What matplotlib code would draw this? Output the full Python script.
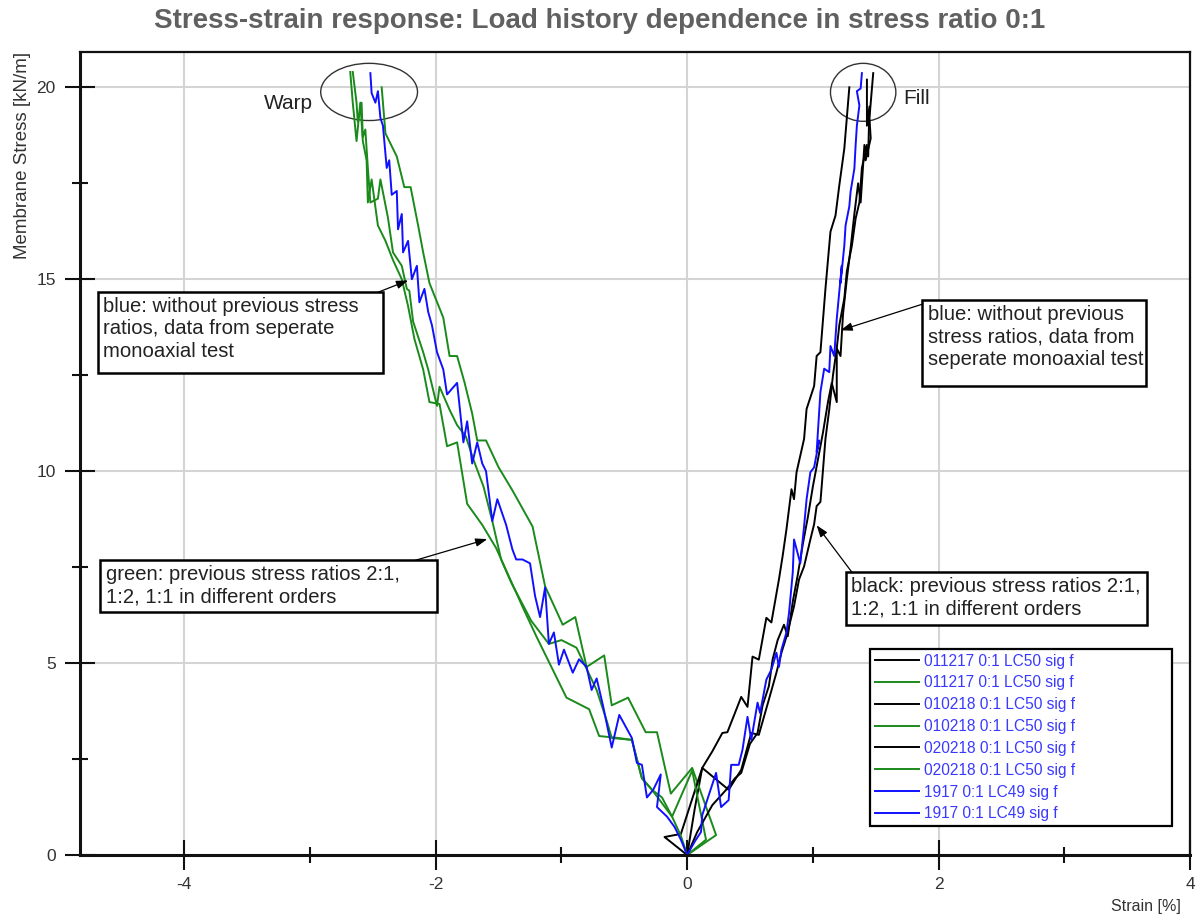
import matplotlib
matplotlib.use("Agg")
import matplotlib.pyplot as plt
from matplotlib.patches import Ellipse, Rectangle

plt.rcParams['font.family'] = ['Liberation Sans', 'DejaVu Sans']
plt.rcParams['axes.unicode_minus'] = False

# warp direction (green, previous stress ratios)
warp_011217_x = [0, 0.23, 0.04, -0.13, -0.24, -0.33, -0.47, -0.60, -0.66, -0.80, -0.89, -0.99, -1.13, -1.23,
                 -1.39, -1.50, -1.60, -1.67, -1.71, -1.77, -1.83, -1.89, -1.94, -2.05, -2.10, -2.14, -2.20,
                 -2.25, -2.31, -2.40, -2.43]
warp_011217_y = [0, 0.52, 2.27, 1.6, 3.2, 3.2, 4.1, 3.9, 5.2, 4.9, 6.2, 6.0, 7.0, 8.56,
                 9.5, 10.1, 10.8, 10.8, 11.5, 12.3, 13.0, 13.0, 14.0, 14.9, 15.7, 16.4, 17.4,
                 17.4, 18.2, 18.8, 20.0]
warp_010218_x = [0, 0.15, 0.04, -0.12, -0.28, -0.36, -0.44, -0.60, -0.64, -0.72, -0.88, -1.00, -1.10, -1.24,
                 -1.40, -1.48, -1.55, -1.62, -1.70, -1.76, -1.83, -1.89, -1.97, -1.99, -2.06, -2.10, -2.18,
                 -2.21, -2.23, -2.27, -2.34, -2.38, -2.44, -2.46, -2.52, -2.54, -2.56, -2.58, -2.59, -2.62,
                 -2.63, -2.66]
warp_010218_y = [0, 0.4, 2.2, 1.0, 1.7, 2.0, 3.0, 3.05, 3.5, 4.3, 5.4, 5.6, 5.5, 6.1,
                 7.1, 7.7, 8.7, 9.6, 10.3, 10.9, 11.2, 11.6, 12.2, 11.7, 12.65, 13.1, 13.9,
                 14.7, 14.75, 15.35, 15.7, 16.6, 17.6, 17.1, 17.0, 17.9, 18.9, 18.7, 19.6, 19.1,
                 19.6, 20.4]
warp_020218_x = [0, -0.05, -0.12, -0.20, -0.28, -0.36, -0.44, -0.55, -0.70, -0.78, -0.96, -1.08, -1.20, -1.30,
                 -1.41, -1.52, -1.63, -1.75, -1.83, -1.91, -1.97, -2.05, -2.10, -2.17, -2.22, -2.27, -2.34,
                 -2.40, -2.46, -2.51, -2.54, -2.55, -2.58, -2.60, -2.63, -2.66, -2.68]
warp_020218_y = [0, 0.5, 1.0, 1.5, 1.7, 2.0, 3.0, 3.05, 3.1, 3.8, 4.1, 4.9, 5.7, 6.4,
                 7.2, 8.0, 8.6, 9.15, 10.75, 10.65, 11.75, 11.8, 12.65, 13.45, 14.3, 15.0, 15.5,
                 16.0, 16.4, 17.6, 17.0, 18.1, 18.6, 19.6, 18.6, 19.6, 20.4]

# fill direction (black, previous stress ratios)
fill_011217_x = [0, 0.06, 0.12, 0.20, 0.28, 0.32, 0.38, 0.43, 0.48, 0.52, 0.57, 0.63, 0.67, 0.73, 0.76,
                 0.79, 0.83, 0.85, 0.87, 0.93, 0.95, 1.01, 1.03, 1.06, 1.10, 1.12, 1.14, 1.18, 1.21,
                 1.25, 1.27, 1.29]
fill_011217_y = [0, 1.2, 2.27, 2.7, 3.18, 3.2, 3.7, 4.12, 3.86, 5.17, 5.09, 6.18, 6.06, 7.18, 7.8,
                 8.49, 9.53, 9.27, 9.97, 10.84, 11.62, 12.22, 13.0, 13.1, 14.75, 15.5, 16.24, 16.66, 17.44,
                 18.4, 19.2, 20.0]
fill_010218_x = [0, -0.18, -0.05, 0.12, 0.33, 0.43, 0.51, 0.57, 0.65, 0.71, 0.75, 0.79, 0.85, 0.89, 0.93,
                 0.98, 1.01, 1.03, 1.06, 1.07, 1.10, 1.13, 1.16, 1.19, 1.21, 1.25, 1.27, 1.31, 1.34,
                 1.37, 1.39, 1.43, 1.42, 1.46, 1.45, 1.48]
fill_010218_y = [0, 0.47, 0.55, 2.27, 1.7, 2.22, 3.18, 3.13, 4.05, 4.75, 5.27, 5.69, 6.48, 7.18, 7.52,
                 8.22, 8.62, 9.09, 9.2, 9.6, 10.84, 11.6, 12.5, 13.2, 13.8, 14.5, 15.2, 15.87, 16.58,
                 17.0, 17.9, 18.5, 18.1, 18.67, 19.2, 20.37]
fill_020218_x = [0, 0.08, 0.20, 0.31, 0.38, 0.43, 0.50, 0.56, 0.60, 0.65, 0.68, 0.72, 0.77, 0.80, 0.84,
                 0.88, 0.92, 0.96, 1.00, 1.04, 1.08, 1.12, 1.15, 1.19, 1.19, 1.22, 1.24, 1.27, 1.30,
                 1.33, 1.36, 1.38, 1.41, 1.44, 1.45, 1.43, 1.43]
fill_020218_y = [0, 0.6, 1.3, 1.7, 2.0, 2.14, 2.9, 3.18, 3.9, 4.4, 5.1, 5.6, 6.0, 5.7, 6.6,
                 7.3, 8.1, 8.8, 9.6, 10.3, 11.0, 11.8, 12.3, 11.8, 13.2, 13.0, 14.1, 15.0, 15.8,
                 16.7, 17.5, 17.0, 18.5, 18.2, 19.5, 19.0, 20.2]

# separate monoaxial test (blue)
mono_warp_x = [0, -0.05, -0.10, -0.16, -0.24, -0.21, -0.27, -0.32, -0.36, -0.40, -0.44, -0.54, -0.60, -0.67,
               -0.72, -0.76, -0.80, -0.86, -0.91, -0.98, -1.02, -1.06, -1.10, -1.13, -1.17, -1.21, -1.25,
               -1.31, -1.36, -1.39, -1.44, -1.51, -1.55, -1.60, -1.63, -1.67, -1.71, -1.75, -1.78, -1.83,
               -1.91, -1.94, -1.99, -2.03, -2.06, -2.09, -2.13, -2.15, -2.19, -2.22, -2.26, -2.27, -2.30,
               -2.31, -2.35, -2.37, -2.39, -2.42, -2.44, -2.46, -2.48, -2.51, -2.52]
mono_warp_y = [0, 0.4, 0.73, 1.0, 1.25, 2.1, 1.7, 1.5, 2.35, 2.4, 3.05, 3.65, 2.8, 3.9,
               4.6, 4.3, 4.9, 5.1, 4.75, 5.35, 4.96, 5.8, 5.5, 6.97, 6.2, 6.75, 7.6,
               7.7, 7.7, 7.96, 8.6, 9.27, 8.7, 10.0, 10.2, 10.75, 10.2, 11.3, 10.75, 12.3,
               12.0, 12.65, 13.1, 13.8, 14.15, 14.75, 14.4, 15.35, 15.0, 16.0, 15.7, 16.7, 16.3,
               17.3, 17.2, 18.1, 17.9, 19.0, 19.2, 19.9, 19.6, 19.85, 20.37]
mono_fill_x = [0, 0.06, 0.11, 0.12, 0.23, 0.27, 0.33, 0.35, 0.41, 0.44, 0.48, 0.51, 0.56, 0.58, 0.63,
               0.67, 0.71, 0.73, 0.75, 0.79, 0.81, 0.83, 0.84, 0.85, 0.90, 0.93, 0.95, 0.98, 1.01,
               1.05, 1.03, 1.06, 1.09, 1.13, 1.14, 1.17, 1.19, 1.21, 1.23, 1.22, 1.25, 1.26, 1.29,
               1.30, 1.33, 1.34, 1.35, 1.37, 1.35, 1.38, 1.39]
mono_fill_y = [0, 0.35, 0.6, 1.04, 2.14, 1.25, 1.43, 2.35, 2.35, 2.74, 3.6, 3.0, 3.97, 3.7, 4.57,
               4.83, 5.27, 4.9, 5.35, 5.8, 6.3, 7.0, 7.36, 8.22, 7.6, 8.56, 9.27, 9.97, 10.1,
               10.8, 10.5, 12.06, 12.67, 12.58, 13.26, 13.0, 13.97, 14.67, 15.35, 14.9, 15.87, 16.4, 16.9,
               17.28, 17.88, 18.49, 19.0, 19.53, 19.9, 19.97, 20.37]

series = [
    (fill_011217_x, fill_011217_y, 'black', '011217 0:1 LC50 sig f'),
    (warp_011217_x, warp_011217_y, 'green', '011217 0:1 LC50 sig f'),
    (fill_010218_x, fill_010218_y, 'black', '010218 0:1 LC50 sig f'),
    (warp_010218_x, warp_010218_y, 'green', '010218 0:1 LC50 sig f'),
    (fill_020218_x, fill_020218_y, 'black', '020218 0:1 LC50 sig f'),
    (warp_020218_x, warp_020218_y, 'green', '020218 0:1 LC50 sig f'),
    (mono_fill_x, mono_fill_y, 'blue', '1917 0:1 LC49 sig f'),
    (mono_warp_x, mono_warp_y, 'blue', '1917 0:1 LC49 sig f'),
]
colors = {'black': '#000000', 'green': '#1a8a1a', 'blue': '#1010ff'}

fig = plt.figure(figsize=(11.99, 9.19), dpi=100)
ax = fig.add_axes([0.0667, 0.0696, 0.9258, 0.8738])

for x, y, c, lab in series:
    ax.plot(x, y, color=colors[c], lw=1.4, label=lab)

ax.set_xlim(-4.83, 3.98)
ax.set_ylim(0, 20.92)
ax.set_xticks([-4, -2, 0, 2, 4])
ax.set_xticks([-3, -1, 1, 3], minor=True)
ax.set_yticks([0, 5, 10, 15, 20])
ax.set_yticks([2.5, 7.5, 12.5, 17.5], minor=True)
ax.grid(True, which='major', color='#d4d4d4', lw=1.5)
ax.set_axisbelow(True)
ax.tick_params(which='major', direction='inout', length=21, width=1.5, colors='#111111',
               labelcolor='#333333', labelsize=12.5)
ax.tick_params(which='minor', direction='inout', length=11, width=1.5, colors='#111111')
ax.tick_params(axis='y', which='major', pad=7)
ax.tick_params(axis='x', which='major', pad=5)
for sp in ax.spines.values():
    sp.set_linewidth(1.6)
    sp.set_color('#111111')
ax.spines['left'].set_linewidth(2.2)
ax.spines['bottom'].set_linewidth(2.2)

ax.set_xlabel('Strain [%]', fontsize=11.5, color='#333333', loc='right', labelpad=7)
ax.xaxis.set_label_coords(0.992, -0.055)
ax.set_ylabel('Membrane Stress [kN/m]', fontsize=13.5, color='#333333', loc='top', labelpad=4)
fig.text(0.5, 0.977, 'Stress-strain response: Load history dependence in stress ratio 0:1',
         ha='center', va='center', fontsize=20, fontweight='bold', color='#606060')

# warp / fill markers
ax.add_patch(Ellipse((-2.53, 19.88), 0.77, 1.49, fill=False, ec='#333333', lw=1.0))
ax.add_patch(Ellipse((1.40, 19.87), 0.52, 1.51, fill=False, ec='#333333', lw=1.0))
ax.text(-2.98, 19.58, 'Warp', ha='right', va='center', fontsize=15, color='#222222')
ax.text(1.72, 19.7, 'Fill', ha='left', va='center', fontsize=15, color='#222222')

# annotation boxes: text, box corners (x0, y0, x1, y1), arrow tail, arrow head
notes = [
    ('blue: without previous stress\nratios, data from seperate\nmonoaxial test',
     (-4.69, 12.55, -2.42, 14.66), (-2.46, 14.66), (-2.22, 14.97)),
    ('blue: without previous\nstress ratios, data from\nseperate monoaxial test',
     (1.87, 12.21, 3.65, 14.45), (1.87, 14.35), (1.22, 13.67)),
    ('green: previous stress ratios 2:1,\n1:2, 1:1 in different orders',
     (-4.67, 6.33, -1.99, 7.68), (-2.16, 7.68), (-1.59, 8.23)),
    ('black: previous stress ratios 2:1,\n1:2, 1:1 in different orders',
     (1.26, 5.99, 3.66, 7.37), (1.31, 7.37), (1.03, 8.59)),
]
for txt, (x0, y0, x1, y1), tail, head in notes:
    ax.annotate('', xy=head, xytext=tail,
                arrowprops=dict(arrowstyle='-|>,head_length=0.7,head_width=0.25', color='black',
                                lw=0.9, shrinkA=0, shrinkB=0), zorder=5)
    ax.add_patch(Rectangle((x0, y0), x1 - x0, y1 - y0, fc='white', ec='black', lw=1.8, zorder=6))
    ax.text(x0 + 0.045, y1 - 0.12, txt, ha='left', va='top', fontsize=14.6, color='#222222',
            linespacing=1.22, zorder=7)

leg = ax.legend(loc='lower left', bbox_to_anchor=(0.712, 0.036, 0.272, 0.213), mode='expand',
                fontsize=11.2, frameon=True, fancybox=False, framealpha=1, edgecolor='black',
                handlelength=2.8, handletextpad=0.35, labelspacing=0.44, borderpad=0.3,
                borderaxespad=0)
leg.get_frame().set_linewidth(1.6)
for t in leg.get_texts():
    t.set_color('#3a3aff')

fig.savefig('out.png', dpi=100)
